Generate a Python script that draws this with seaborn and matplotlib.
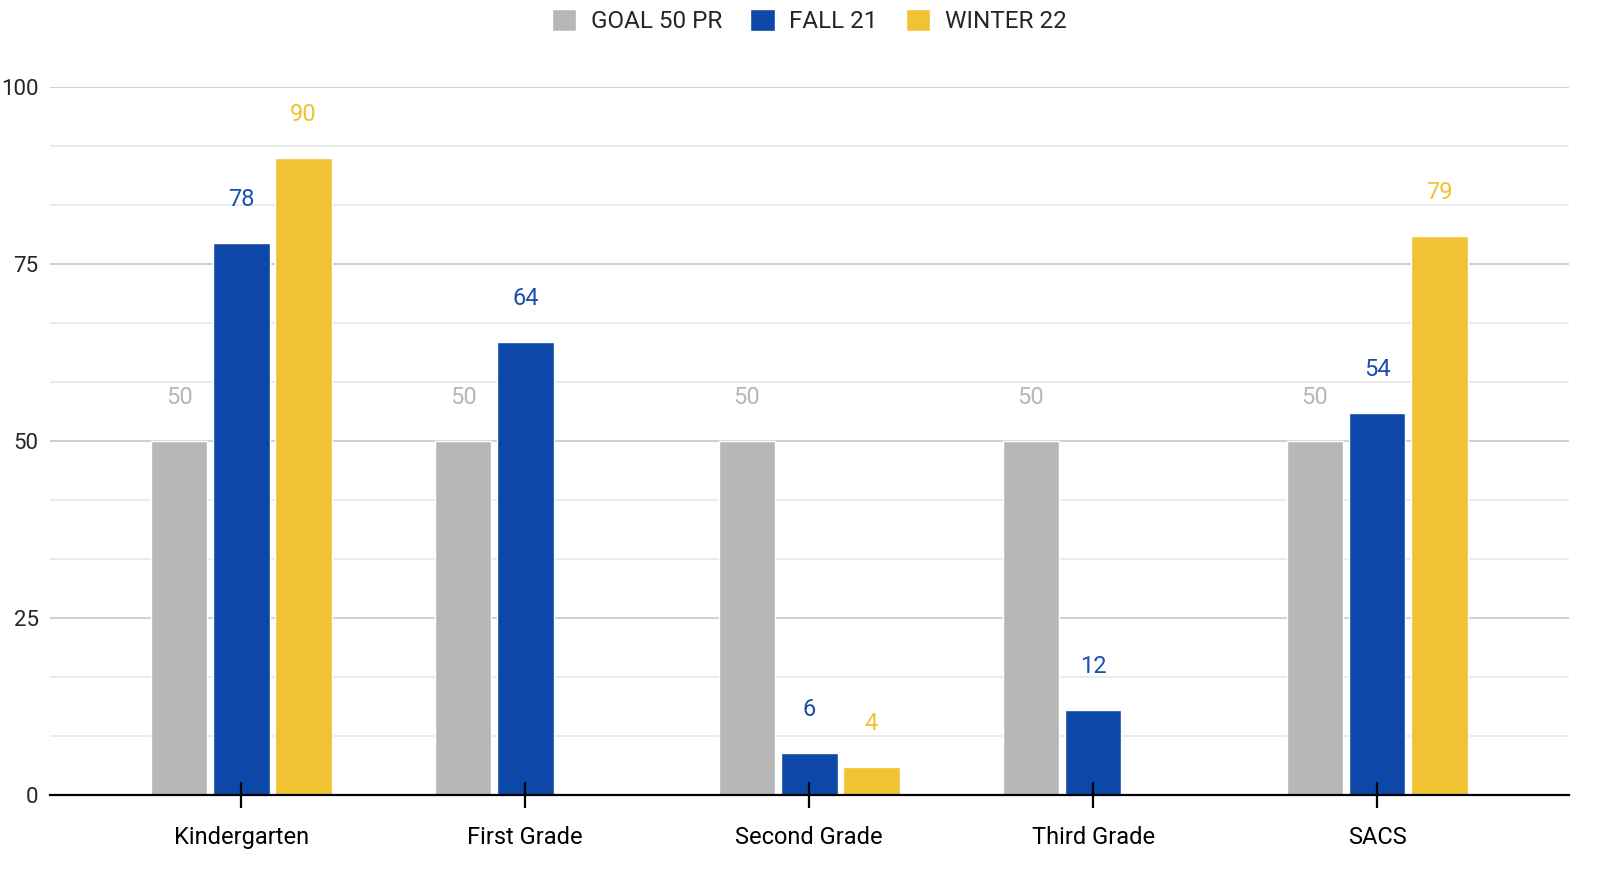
import numpy as np
import pandas as pd
import seaborn as sns
import matplotlib.pyplot as plt
from matplotlib.ticker import MultipleLocator

# --- DATA ---
grades = ["Kindergarten", "First Grade", "Second Grade", "Third Grade", "SACS"]
series = ["GOAL 50 PR", "FALL 21", "WINTER 22"]
goal = [50, 50, 50, 50, 50]
fall21 = [78, 64, 6, 12, 54]
winter22 = [90, np.nan, 4, np.nan, 79]
colors = ["#b7b7b7", "#0d47a8", "#f1c232"]
label_colors = ["#b7b7b7", "#1a4fb0", "#f1c232"]

rows = []
for name, vals in zip(series, [goal, fall21, winter22]):
    for g, v in zip(grades, vals):
        rows.append({"grade": g, "series": name, "value": v})
df = pd.DataFrame(rows)

# --- PLOT ---
sns.set_style("white")
plt.rcParams["font.family"] = ["Roboto", "DejaVu Sans"]

fig = plt.figure(figsize=(16.04, 8.74), dpi=100)
ax = fig.add_axes([0.031, 0.0904, 0.947, 0.81])

sns.barplot(data=df, x="grade", y="value", hue="series", order=grades,
            hue_order=series, palette=colors, width=0.657, gap=0.09,
            saturation=1, errorbar=None, ax=ax, zorder=3)

# value labels above each bar
for cont, col in zip(ax.containers, label_colors):
    for bar in cont:
        h = bar.get_height()
        if np.isnan(h):
            continue
        ax.annotate(f"{int(h)}", (bar.get_x() + bar.get_width() / 2, h),
                    xytext=(0, 31), textcoords="offset points",
                    ha="center", va="center", fontsize=17, color=col)

ax.set_ylim(0, 100)
ax.set_xlim(-0.675, 4.675)
ax.yaxis.set_major_locator(MultipleLocator(25))
ax.yaxis.set_minor_locator(MultipleLocator(25 / 3))
ax.grid(axis="y", which="major", color="#cccccc", linewidth=1.3, zorder=0)
ax.grid(axis="y", which="minor", color="#e6e6e6", linewidth=1.1, zorder=0)
ax.set_axisbelow(True)
# x ticks drawn on top of the bars
ax.xaxis.set_zorder(4)

for s in ["top", "right", "left"]:
    ax.spines[s].set_visible(False)
ax.spines["bottom"].set_color("black")
ax.spines["bottom"].set_linewidth(1.6)
ax.spines["bottom"].set_zorder(4)

ax.tick_params(axis="x", bottom=True, direction="inout", length=19, width=1.6,
               labelsize=17, pad=13, colors="black")
ax.tick_params(axis="y", which="both", length=0, labelsize=16, pad=8)
ax.set_xlabel("")
ax.set_ylabel("")

# legend on top
handles, labels = ax.get_legend_handles_labels()
ax.legend(handles, labels, loc="lower center", bbox_to_anchor=(0.5, 1.045),
          ncol=3, frameon=False, fontsize=17.5, handlelength=1.0,
          handleheight=1.0, columnspacing=1.15, handletextpad=0.6)

plt.savefig("out.png", dpi=100)
